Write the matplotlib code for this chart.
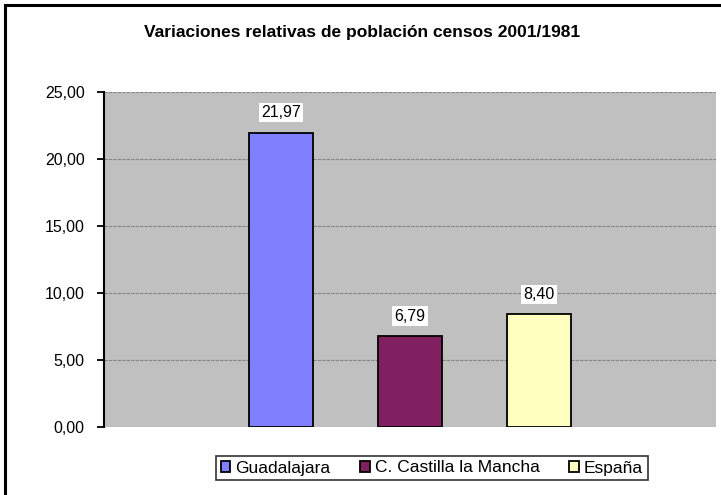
import matplotlib.pyplot as plt
from matplotlib.patches import Rectangle

categories = ["Guadalajara", "C. Castilla la Mancha", "España"]
values = [21.97, 6.79, 8.40]
colors = ["#8080FF", "#802060", "#FFFFC0"]
yticks = [0, 5, 10, 15, 20, 25]
title = "Variaciones relativas de población censos 2001/1981"


def comma(v):
    return f"{v:.2f}".replace(".", ",")


plt.rcParams["font.family"] = ["Liberation Sans", "DejaVu Sans"]

fig = plt.figure(figsize=(7.21, 4.95), dpi=100)
ax = fig.add_axes([104 / 721, 1 - 427 / 495, (716 - 104) / 721, (427 - 92) / 495])
ax.set_facecolor("#C0C0C0")

# outer chart border (cut off on right and bottom in the reference)
fig.patches.append(Rectangle((5 / 721, -0.05), 1.1, 1 - 5 / 495 + 0.05,
                             transform=fig.transFigure, fill=False,
                             edgecolor="black", lw=2.2))

x = list(range(len(values)))
bars = ax.bar(x, values, width=0.5, color=colors, edgecolor="black",
              linewidth=1.3, zorder=3)
for b, lab in zip(bars, categories):
    b.set_label(lab)

for xi, v in zip(x, values):
    ax.annotate(comma(v), (xi, v), xytext=(0, 9), textcoords="offset points",
                ha="center", va="bottom", fontsize=11.5,
                bbox=dict(boxstyle="square,pad=0.15", fc="white", ec="none"),
                zorder=4)

ax.set_xlim(-1.37, 3.37)
ax.set_ylim(0, 25)
ax.set_yticks(yticks)
ax.set_yticklabels([comma(t) for t in yticks], fontsize=11.5)
ax.set_xticks([])
ax.yaxis.grid(True, color="#858585", ls=(0, (3, 1)), lw=0.8, zorder=0)
ax.tick_params(axis="y", direction="out", length=5, width=1.3, pad=9)

for side in ["top", "right", "bottom"]:
    ax.spines[side].set_visible(False)
ax.spines["left"].set_linewidth(1.5)

fig.text(362 / 721, 1 - 32 / 495, title, ha="center", va="center",
         fontsize=12.5, fontweight="bold")

leg = fig.legend(handles=bars, labels=categories, loc="center",
                 bbox_to_anchor=(432 / 721, 1 - 468 / 495), ncol=3,
                 fontsize=12.5, frameon=True, fancybox=False, shadow=False,
                 handlelength=0.55, handleheight=0.55, handletextpad=0.3,
                 columnspacing=1.7, borderpad=0.25, borderaxespad=0)
leg.get_frame().set_edgecolor("black")
leg.get_frame().set_linewidth(1.2)

fig.savefig("out.png", dpi=100)
